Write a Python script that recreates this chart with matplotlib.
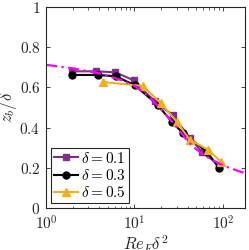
import matplotlib
matplotlib.use("Agg")
import matplotlib.pyplot as plt
from matplotlib.ticker import FixedLocator, LogLocator, NullFormatter

plt.rcParams['mathtext.fontset'] = 'cm'
plt.rcParams['font.family'] = 'serif'
plt.rcParams['font.serif'] = ['DejaVu Serif']

# Fit curve (magenta dash-dot)
fit_x = [1.0, 2.0, 4.0, 7.0, 10.0, 14.0, 18.0, 24.0, 30.0, 38.0, 46.0, 60.0, 77.0, 100.0, 120.0, 150.0, 180.0]
fit_y = [0.712, 0.695, 0.670, 0.637, 0.608, 0.560, 0.512, 0.452, 0.402, 0.345, 0.305, 0.265, 0.237, 0.213, 0.199, 0.184, 0.172]

# delta = 0.1
d1_x = [1.95, 3.7, 6.1, 9.8, 17.0, 27.0, 42.0, 58.0, 90.0]
d1_y = [0.680, 0.680, 0.675, 0.635, 0.530, 0.463, 0.350, 0.278, 0.215]

# delta = 0.3
d3_x = [1.95, 3.9, 6.2, 10.1, 18.4, 26.5, 35.3, 66.0, 90.0]
d3_y = [0.662, 0.662, 0.655, 0.610, 0.512, 0.428, 0.373, 0.280, 0.200]

# delta = 0.5
d5_x = [4.4, 12.5, 20.0, 30.0, 42.0, 68.0, 95.0]
d5_y = [0.627, 0.607, 0.520, 0.430, 0.340, 0.290, 0.230]

labels = [r'$\delta = 0.1$', r'$\delta = 0.3$', r'$\delta = 0.5$']
xticks = [1, 10, 100]
xticklabels = [r'$10^{0}$', r'$10^{1}$', r'$10^{2}$']
yticks = [0, 0.2, 0.4, 0.6, 0.8, 1.0]
yticklabels = [r'$0$', r'$0.2$', r'$0.4$', r'$0.6$', r'$0.8$', r'$1$']

fig = plt.figure(figsize=(2.49, 2.50), dpi=100)
ax = fig.add_axes([0.185, 0.168, 0.799, 0.804])

purple = '#7E2F8E'
yellow = '#EDB120'

ax.plot(d1_x, d1_y, '-s', color=purple, lw=1.5, ms=4.5, label=labels[0])
ax.plot(d3_x, d3_y, '-o', color='black', lw=1.5, ms=5, label=labels[1])
ax.plot(d5_x, d5_y, '-^', color=yellow, lw=1.5, ms=6, label=labels[2])
ax.plot(fit_x, fit_y, linestyle=(0, (5, 2, 1, 2)), color='#FF00FF', lw=1.6)

ax.set_xscale('log')
ax.set_xlim(1, 178)
ax.set_ylim(0, 1)
ax.xaxis.set_major_locator(FixedLocator(xticks))
ax.set_xticklabels(xticklabels)
ax.xaxis.set_minor_locator(LogLocator(base=10, subs=range(2, 10)))
ax.xaxis.set_minor_formatter(NullFormatter())
ax.set_yticks(yticks)
ax.set_yticklabels(yticklabels)
ax.tick_params(which='both', direction='in', top=True, right=True, labelsize=11, colors='#262626')
ax.tick_params(which='major', length=3, width=0.6)
ax.tick_params(which='minor', length=1.8, width=0.5)
ax.tick_params(axis='x', which='major', pad=5)
ax.tick_params(axis='y', which='major', pad=4)
for s in ax.spines.values():
    s.set_linewidth(0.8)
    s.set_color('#262626')

ax.set_xlabel(r'$Re_F\delta^2$', fontsize=12, color='#262626', labelpad=0)
ax.set_ylabel(r'$z_b/\delta$', fontsize=12, color='#262626', labelpad=0)

leg = ax.legend(loc='lower left', fontsize=11, frameon=True, fancybox=False,
                edgecolor='#262626', framealpha=1, handlelength=1.6, handletextpad=0.2,
                borderpad=0.2, labelspacing=0.15, borderaxespad=0.3)
leg.get_frame().set_linewidth(0.8)

fig.savefig('out.png', dpi=100)
